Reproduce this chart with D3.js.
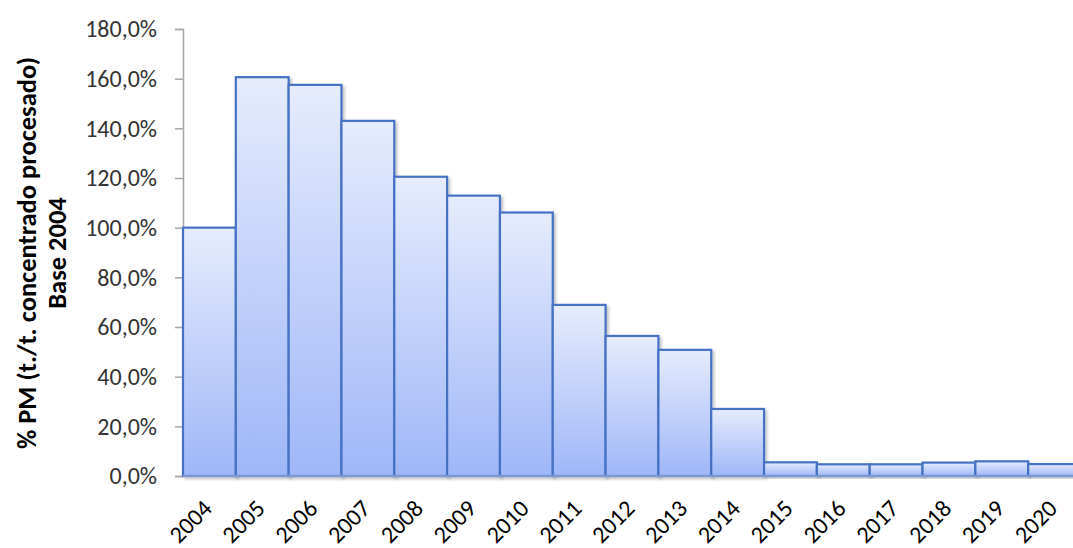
<!DOCTYPE html>
<html><head><meta charset="utf-8">
<script src="https://cdn.jsdelivr.net/npm/d3@7"></script>
<style>body{margin:0;background:#fff;}svg{display:block;font-family:Calibri,Carlito,"Open Sans","Liberation Sans",sans-serif;}</style>
</head><body>
<svg id="c" width="1073" height="548"></svg>
<script>
const years = ["2004","2005","2006","2007","2008","2009","2010","2011","2012","2013","2014","2015","2016","2017","2018","2019","2020"];
const values = [100, 160.6, 157.5, 143, 120.5, 112.9, 106.1, 68.9, 56.4, 50.8, 27, 5.5, 4.7, 4.7, 5.4, 5.9, 4.8];
const yTicks = [0,20,40,60,80,100,120,140,160,180];

(function(){
const FONT = 'Calibri,Carlito,"Open Sans","Liberation Sans",sans-serif';
const svg = d3.select("#c");
const mLeft = 183, mTop = 29, mBottom = 476, mRight = 1081;
const x = d3.scaleBand().domain(years).range([mLeft, mRight]).padding(0);
const y = d3.scaleLinear().domain([0,180]).range([mBottom, mTop]);

const defs = svg.append("defs");
const g = defs.append("linearGradient").attr("id","bg").attr("x1",0).attr("y1",0).attr("x2",0).attr("y2",1);
g.append("stop").attr("offset","0%").attr("stop-color","#e6ecfd");
g.append("stop").attr("offset","100%").attr("stop-color","#9fb7f8");
const f = defs.append("filter").attr("id","sh").attr("x","-10%").attr("y","-10%").attr("width","130%").attr("height","130%");
f.append("feDropShadow").attr("dx",2).attr("dy",2).attr("stdDeviation",1.5).attr("flood-color","#000").attr("flood-opacity",0.25);

const yAxis = svg.append("g").attr("transform",`translate(${mLeft},0)`)
  .call(d3.axisLeft(y).tickValues(yTicks).tickSize(8).tickPadding(18)
    .tickFormat(d => d.toFixed(1).replace(".", ",") + "%"));
yAxis.attr("font-family", FONT).attr("font-size", null);
yAxis.select(".domain").attr("stroke","#a6a6a6").attr("stroke-width",1.5);
yAxis.selectAll(".tick line").attr("stroke","#a6a6a6").attr("stroke-width",1.5);
yAxis.selectAll(".tick text").attr("fill","#333").style("font-size","24px").style("font-family", FONT);

svg.append("g").selectAll("rect").data(years).join("rect")
  .attr("x", d => x(d))
  .attr("y", (d,i) => y(values[i]))
  .attr("width", x.bandwidth())
  .attr("height", (d,i) => y(0) - y(values[i]))
  .attr("fill","url(#bg)")
  .attr("stroke","#4472c4").attr("stroke-width",2.2)
  .attr("filter","url(#sh)");

svg.append("line").attr("x1",mLeft).attr("x2",mRight).attr("y1",mBottom).attr("y2",mBottom)
  .attr("stroke","#8ea6d8").attr("stroke-width",1.5);

svg.append("g").selectAll("text").data(years).join("text")
  .attr("transform", d => `translate(${x(d)+x.bandwidth()/2+4},${mBottom+34}) rotate(-45)`)
  .attr("text-anchor","end")
  .attr("fill","#000")
  .style("font-size","24px")
  .text(d => d);

const yt = svg.append("text").attr("transform","translate(0,253) rotate(-90)")
  .attr("text-anchor","middle").attr("font-weight","bold").attr("fill","#000").style("font-size","26.5px");
yt.append("tspan").attr("x",0).attr("y",36).text("% PM (t./t. concentrado procesado)");
yt.append("tspan").attr("x",0).attr("y",66).text("Base 2004");
})();
</script>
</body></html>
